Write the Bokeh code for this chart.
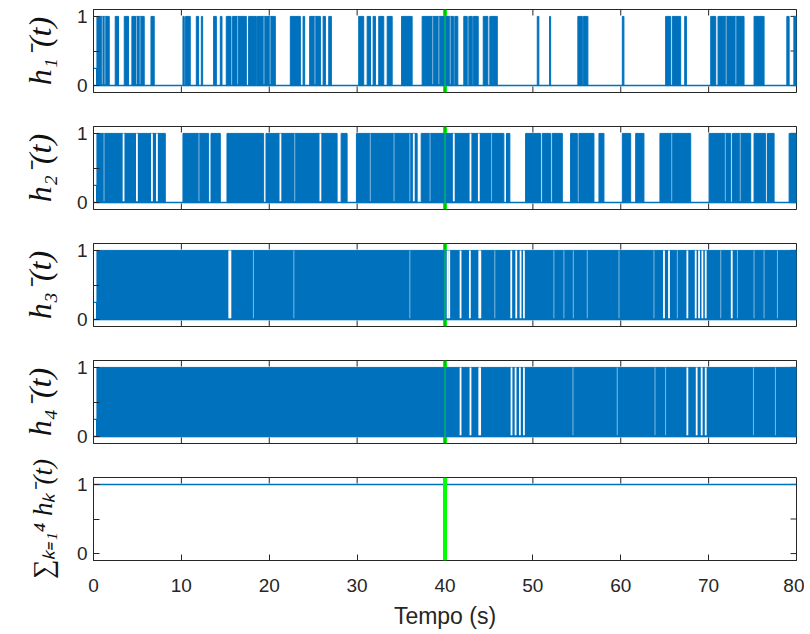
import math
from bokeh.plotting import figure
from bokeh.models import Range1d, FixedTicker, Span
from bokeh.layouts import column
from bokeh.embed import file_html
from bokeh.resources import INLINE

# ---------------- data ----------------
time_span = [0.0, 80.0]
y_limits = [-0.1, 1.1]
switch_time = 40.0
init_end = 0.35
init_value = [0.25, 0.25, 0.25, 0.25]

x_ticks = [0, 10, 20, 30, 40, 50, 60, 70, 80]
y_ticks = [0, 0.5, 1]
y_tick_text = {0: "0", 0.5: "", 1: "1"}

labels = ["h\u2081\u207b(t)", "h\u2082\u207b(t)", "h\u2083\u207b(t)", "h\u2084\u207b(t)",
          "\u2211\u2096\u208c\u2081\u2074 h\u2096\u207b(t)"]

# intervals where h1 is active (dense switching / at 1)
h1_start = [0.39, 2.47, 3.50, 4.37, 6.54, 10.18, 10.48, 11.70, 12.27, 13.67, 14.43, 15.11,
            15.83, 17.65, 18.61, 22.40, 23.85, 24.60, 26.13, 26.77, 30.18, 31.14, 31.82,
            32.46, 33.42, 35.06, 37.40, 41.12, 42.14, 42.71, 43.21, 44.35, 45.10, 50.50,
            51.90, 55.12, 55.74, 60.18, 65.11, 65.87, 67.28, 70.24, 71.07, 75.17, 78.90, 79.70]
h1_end = [1.79, 2.85, 3.99, 5.77, 6.91, 10.33, 11.01, 11.96, 12.42, 13.98, 14.62, 15.65,
          17.39, 18.53, 20.69, 23.54, 24.03, 25.82, 26.39, 27.07, 30.75, 31.52, 32.08,
          33.03, 33.99, 36.26, 41.00, 41.46, 42.53, 43.10, 43.78, 44.88, 45.95, 50.68,
          52.02, 55.63, 56.26, 60.36, 65.68, 66.82, 67.47, 70.81, 74.03, 76.31, 79.16, 80.00]
h1_faint = [1.0, 1.3, 4.9, 5.3, 16.4, 19.4, 20.1, 25.2, 38.6, 39.3, 40.6, 72.0, 73.1]

h2_start = [0.39, 10.18, 13.37, 15.19, 19.63, 28.18, 29.92, 37.29, 47.00, 49.17, 51.07, 52.20,
            54.29, 55.24, 57.52, 60.18, 61.70, 64.46, 70.05, 72.71, 75.17, 76.70, 79.16]
h2_end = [8.17, 13.10, 14.43, 19.36, 27.72, 28.86, 36.83, 46.70, 47.38, 50.88, 52.02, 53.35,
          55.06, 56.95, 58.09, 61.13, 62.64, 67.96, 72.52, 74.79, 76.50, 77.45, 80.00]
h2_gaps = [3.42, 4.94, 6.65, 7.22, 21.27, 25.82, 36.45, 41.0, 42.9, 43.85]
h2_faint = [1.2, 9.9, 12.0, 22.9, 31.5, 34.2, 36.0, 38.3, 45.3, 65.8, 71.9, 73.6]

h3_start = [0.39]
h3_end = [80.0]
h3_gaps = [15.45, 15.58, 40.30, 40.48, 41.77, 42.83, 43.90, 44.02, 47.54, 48.11, 48.60, 48.98,
           64.92, 65.49, 67.58, 68.53, 68.91, 69.29, 69.67, 72.63]
h3_faint = [18.2, 22.8, 36.0, 45.67, 52.39, 53.53, 54.60, 56.19, 59.80, 63.78, 66.44,
            71.38, 73.28, 75.17, 76.31, 77.83]

h4_start = [0.39]
h4_end = [80.0]
h4_gaps = [41.77, 42.90, 43.90, 44.00, 47.57, 48.03, 48.52, 48.98, 67.58, 68.64, 69.21, 69.67]
h4_faint = [54.56, 59.60, 63.90, 65.10, 75.10, 77.60]

sum_value = [1.0, 1.0]

# ---------------- styling ----------------
BLUE = "#0072BD"
GREEN = "#00FF00"
AX = "#262626"
TICK_FONT = "Liberation Sans"
LABEL_FONT = "Liberation Serif"


def style_ticks_glyphs(p, bottom_ticks):
    # inner tick marks on the top (and bottom) edges and the right edge
    p.scatter(x=x_ticks, y=[y_limits[1]] * len(x_ticks), marker="dash", angle=math.pi / 2,
              size=12, line_color=AX, line_width=1)
    if bottom_ticks:
        p.scatter(x=x_ticks, y=[y_limits[0]] * len(x_ticks), marker="dash", angle=math.pi / 2,
                  size=12, line_color=AX, line_width=1)
    p.scatter(x=[time_span[1]] * len(y_ticks), y=y_ticks, marker="dash",
              size=12, line_color=AX, line_width=1)


def make_fig(label, label_size, top, bottom, show_x):
    p = figure(frame_width=703, frame_height=83,
               x_range=Range1d(*time_span), y_range=Range1d(*y_limits),
               output_backend="svg", toolbar_location=None, tools="",
               min_border_left=93, min_border_right=8,
               min_border_top=top, min_border_bottom=bottom)
    p.grid.visible = False
    p.outline_line_color = AX
    p.outline_line_width = 1
    p.background_fill_color = "white"
    p.border_fill_color = "white"

    ax = p.xaxis[0]
    if show_x:
        ax.ticker = FixedTicker(ticks=x_ticks)
        ax.major_tick_in = 6
        ax.major_tick_out = 0
        ax.minor_tick_in = 0
        ax.minor_tick_out = 0
        ax.axis_line_color = AX
        ax.major_tick_line_color = AX
        ax.major_label_text_color = AX
        ax.major_label_text_font = TICK_FONT
        ax.major_label_text_font_size = "19px"
        ax.major_label_standoff = 18
        ax.axis_label = "Tempo (s)"
        ax.axis_label_text_font = TICK_FONT
        ax.axis_label_text_font_style = "normal"
        ax.axis_label_text_font_size = "23px"
        ax.axis_label_text_color = AX
        ax.axis_label_standoff = 8
    else:
        ax.visible = False

    ay = p.yaxis[0]
    ay.ticker = FixedTicker(ticks=y_ticks)
    ay.major_label_overrides = {k: v for k, v in y_tick_text.items()}
    ay.major_tick_in = 6
    ay.major_tick_out = 0
    ay.minor_tick_in = 0
    ay.minor_tick_out = 0
    ay.axis_line_color = AX
    ay.major_tick_line_color = AX
    ay.major_label_text_color = AX
    ay.major_label_text_font = TICK_FONT
    ay.major_label_text_font_size = "19px"
    ay.major_label_standoff = 6
    ay.axis_label = label
    ay.axis_label_text_font = LABEL_FONT
    ay.axis_label_text_font_style = "italic"
    ay.axis_label_text_font_size = label_size
    ay.axis_label_text_color = "#111111"
    ay.axis_label_standoff = 16

    style_ticks_glyphs(p, not show_x)
    return p


def draw_switching(p, starts, ends, gaps, faint, init):
    p.add_layout(Span(location=switch_time, dimension="height", line_color=GREEN,
                      line_width=4, level="underlay"))
    p.line(time_span, [0, 0], line_color=BLUE, line_width=1.5)
    p.line([time_span[0], init_end, init_end], [init, init, 0], line_color=BLUE, line_width=1.2)
    p.quad(left=starts, right=ends, bottom=0, top=1, fill_color=BLUE,
           line_color=BLUE, line_width=1)
    if gaps:
        p.segment(x0=gaps, y0=0.02, x1=gaps, y1=1.0, line_color="white", line_width=1.8)
    if faint:
        p.segment(x0=faint, y0=0.02, x1=faint, y1=1.0, line_color="white",
                  line_width=1, line_alpha=0.5)
    p.add_layout(Span(location=switch_time, dimension="height", line_color=GREEN,
                      line_width=1, line_alpha=0.7))


figs = []
p1 = make_fig(labels[0], "32px", 9, 17, False)
draw_switching(p1, h1_start, h1_end, [], h1_faint, init_value[0])
figs.append(p1)

p2 = make_fig(labels[1], "32px", 17, 17, False)
draw_switching(p2, h2_start, h2_end, h2_gaps, h2_faint, init_value[1])
figs.append(p2)

p3 = make_fig(labels[2], "32px", 17, 17, False)
draw_switching(p3, h3_start, h3_end, h3_gaps, h3_faint, init_value[2])
figs.append(p3)

p4 = make_fig(labels[3], "32px", 17, 4, False)
draw_switching(p4, h4_start, h4_end, h4_gaps, h4_faint, init_value[3])
figs.append(p4)

p5 = make_fig(labels[4], "27px", 30, 72, True)
p5.line(time_span, sum_value, line_color=BLUE, line_width=1.5)
p5.add_layout(Span(location=switch_time, dimension="height", line_color=GREEN, line_width=4))
figs.append(p5)

layout = column(*figs, spacing=0)
open("out.html", "w").write(file_html(layout, INLINE))
